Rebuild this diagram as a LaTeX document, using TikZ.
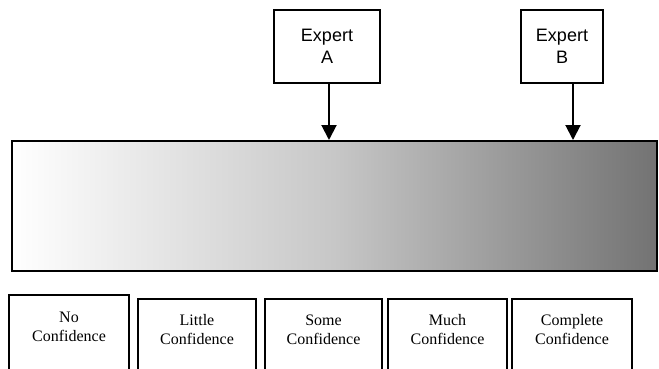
\documentclass[tikz,border=0pt]{standalone}
\usepackage{fontspec}
\setmainfont{Liberation Serif}
\newfontfamily\arialfont{Liberation Sans}
\usetikzlibrary{arrows.meta}
\begin{document}
\begin{tikzpicture}[x=1pt,y=-1pt,
  expertbox/.style={draw, line width=2pt, minimum width=106pt, minimum height=73pt, align=center, font=\arialfont\fontsize{18}{22}\selectfont, inner sep=0pt},
  confbox/.style={draw, line width=2pt, minimum width=118pt, minimum height=100pt, anchor=north, inner sep=0pt},
  conftext/.style={align=center, font=\fontsize{16}{19}\selectfont, inner sep=0pt},
  pointer/.style={line width=2pt, -{Triangle[width=15pt,length=15pt]}}]
\useasboundingbox (0,0) rectangle (659,369);
\clip (0,0) rectangle (659,369);
\node[draw, line width=2pt, minimum width=645pt, minimum height=130pt, inner sep=0pt,
  shade, shading=axis, left color=white, right color=black!55, middle color=black!22] (bar) at (334,206) {};
\node[expertbox] (ea) at (327,46.5) {Expert\\A};
\node[expertbox, minimum width=82pt] (eb) at (562,46.5) {Expert\\B};
\draw[pointer] (ea.south -| 329,0) -- (bar.north -| 329,0);
\draw[pointer] (eb.south -| 573,0) -- (bar.north -| 573,0);
\node[confbox, minimum width=120pt] (c1) at (69,294) {};
\node[confbox] (c2) at (197,298) {};
\node[confbox, minimum width=117pt] (c3) at (323.5,298) {};
\node[confbox, minimum width=119pt] (c4) at (447.5,298) {};
\node[confbox, minimum width=120pt] (c5) at (572,298) {};
\node[conftext] (t1) at (69,326.5) {No\\Confidence};
\node[conftext] (t2) at (197,330) {Little\\Confidence};
\node[conftext] (t3) at (323.5,330) {Some\\Confidence};
\node[conftext] (t4) at (447.5,330) {Much\\Confidence};
\node[conftext] (t5) at (572,330) {Complete\\Confidence};
\end{tikzpicture}
\end{document}
